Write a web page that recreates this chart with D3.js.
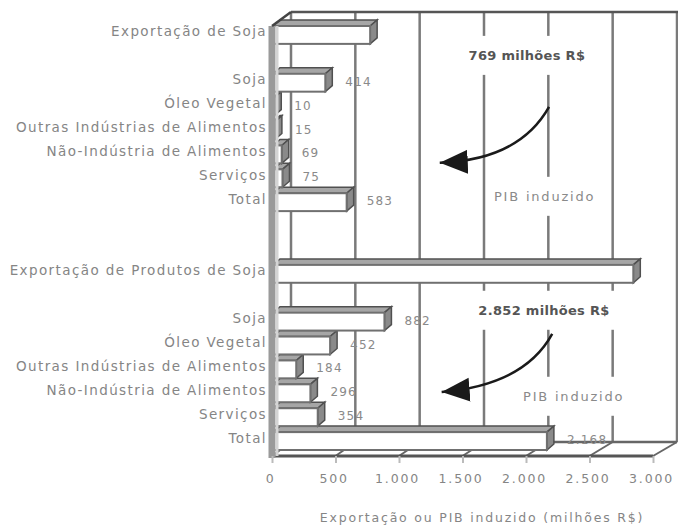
<!DOCTYPE html>
<html>
<head>
<meta charset="utf-8">
<script src="https://cdn.jsdelivr.net/npm/d3@7"></script>
<style>
  body { margin: 0; background: #fff; }
  text { font-family: "DejaVu Sans", sans-serif; }
</style>
</head>
<body>
<svg id="chart" width="678" height="526"></svg>
<script>
// categories, blank entries are the empty rows of the original chart
const categories = ["Exportação de Soja", "", "Soja", "Óleo Vegetal", "Outras Indústrias de Alimentos",
    "Não-Indústria de Alimentos", "Serviços", "Total", "", "", "Exportação de Produtos de Soja", "",
    "Soja", "Óleo Vegetal", "Outras Indústrias de Alimentos", "Não-Indústria de Alimentos", "Serviços", "Total"];
const values = [769, null, 414, 10, 15, 69, 75, 583, null, null, 2852, null, 882, 452, 184, 296, 354, 2168];
const valueLabels = ["", "", "414", "10", "15", "69", "75", "583", "", "", "", "", "882", "452", "184", "296", "354", "2.168"];
const tickValues = [0, 500, 1000, 1500, 2000, 2500, 3000];
const tickLabels = ["0", "500", "1.000", "1.500", "2.000", "2.500", "3.000"];
const axisTitle = "Exportação ou PIB induzido (milhões R$)";

// annotations, in data units (x value, row index)
const noteTexts = ["769 milhões R$", "PIB induzido", "2.852 milhões R$", "PIB induzido"];
const noteX = [2010, 2150, 2145, 2380];
const noteRow = [1.46, 7.36, 12.13, 15.73];
const noteBold = [true, false, true, false];
const arrowFrom = [[2185, 3.64], [2210, 13.14]];
const arrowCtrl = [[1950, 5.86], [1990, 15.28]];
const arrowTo = [[1320, 5.98], [1335, 15.57]];

const width = 678, height = 526;
const floorY = 456;
const depth = { x: 19, y: -14 };   // wall depth
const bar3d = { x: 7, y: -6 };     // bar depth

const svg = d3.select("#chart");

const xFront = d3.scaleLinear().domain([0, 3000]).range([272, 653]);
const xBack = d3.scaleLinear().domain([0, 3000]).range([291, 677]);
const xBar = d3.scaleLinear().domain([0, 3000]).range([273, 652]);
const y = d3.scaleBand().domain(d3.range(categories.length)).range([20, 450]).padding(0);
const yRow = d3.scaleLinear().domain([0, categories.length]).range([20, 450]);

// back wall gridlines
svg.append("g")
    .selectAll("line")
    .data(tickValues)
    .join("line")
    .attr("x1", d => xBack(d))
    .attr("x2", d => xBack(d))
    .attr("y1", 12)
    .attr("y2", floorY + depth.y)
    .attr("stroke", "#7a7a7a")
    .attr("stroke-width", 2.5);

// top edge of back wall
svg.append("line")
    .attr("x1", xBack(0)).attr("x2", width)
    .attr("y1", 12).attr("y2", 12)
    .attr("stroke", "#555").attr("stroke-width", 2.5);

// floor
svg.append("polygon")
    .attr("points", [[xFront(0), floorY], [xFront(3000), floorY],
        [xBack(3000), floorY + depth.y], [xBack(0), floorY + depth.y]].join(" "))
    .attr("fill", "#fff");
svg.append("g")
    .selectAll("line")
    .data(tickValues)
    .join("line")
    .attr("x1", d => xFront(d)).attr("y1", floorY)
    .attr("x2", d => xBack(d)).attr("y2", floorY + depth.y)
    .attr("stroke", "#666").attr("stroke-width", 2);
svg.append("line")
    .attr("x1", xBack(0)).attr("x2", xBack(3000))
    .attr("y1", floorY + depth.y).attr("y2", floorY + depth.y)
    .attr("stroke", "#666").attr("stroke-width", 2.5);
svg.append("line")
    .attr("x1", xFront(0)).attr("x2", xFront(3000))
    .attr("y1", floorY).attr("y2", floorY)
    .attr("stroke", "#555").attr("stroke-width", 3);

// annotation texts with white boxes over the gridlines
const notes = svg.append("g")
    .selectAll("g")
    .data(noteTexts)
    .join("g");
notes.append("text")
    .attr("x", (d, i) => xBar(noteX[i]))
    .attr("y", (d, i) => yRow(noteRow[i]) + 5)
    .attr("text-anchor", "middle")
    .attr("font-size", 13)
    .attr("letter-spacing", (d, i) => noteBold[i] ? 0.3 : 1.8)
    .attr("font-weight", (d, i) => noteBold[i] ? "bold" : "normal")
    .attr("fill", (d, i) => noteBold[i] ? "#555" : "#8a8a8a")
    .text(d => d);
notes.each(function () {
    const g = d3.select(this);
    const b = g.select("text").node().getBBox();
    g.insert("rect", "text")
        .attr("x", b.x - 6).attr("y", b.y - 12)
        .attr("width", b.width + 12).attr("height", b.height + 24)
        .attr("fill", "#fff");
});

// bars
const bars = svg.append("g")
    .selectAll("g")
    .data(values.map((v, i) => ({ v, i })).filter(d => d.v !== null).reverse())
    .join("g");
bars.append("polygon")
    .attr("points", d => {
        const top = y(d.i), x0 = xBar(0), x1 = xBar(d.v);
        return [[x0, top - bar3d.y], [x0 + bar3d.x, top], [x1 + bar3d.x, top], [x1, top - bar3d.y]].join(" ");
    })
    .attr("fill", "#a6a6a6")
    .attr("stroke", "#505050")
    .attr("stroke-width", 1.5);
bars.append("polygon")
    .attr("points", d => {
        const top = y(d.i), bot = y(d.i) + y.bandwidth(), x1 = xBar(d.v);
        return [[x1, top - bar3d.y], [x1 + bar3d.x, top], [x1 + bar3d.x, bot + bar3d.y], [x1, bot]].join(" ");
    })
    .attr("fill", "#8a8a8a")
    .attr("stroke", "#505050")
    .attr("stroke-width", 1.5);
bars.append("rect")
    .attr("x", xBar(0))
    .attr("y", d => y(d.i) - bar3d.y)
    .attr("width", d => xBar(d.v) - xBar(0))
    .attr("height", y.bandwidth() + bar3d.y)
    .attr("fill", "#fff")
    .attr("stroke", "#707070")
    .attr("stroke-width", 2);

// left wall, drawn over the bar starts
svg.append("line")
    .attr("x1", xFront(0)).attr("x2", xFront(0))
    .attr("y1", 12 - depth.y).attr("y2", floorY + 2)
    .attr("stroke", "#9a9a9a").attr("stroke-width", 7);
svg.append("line")
    .attr("x1", xFront(0) + 5).attr("x2", xFront(0) + 5)
    .attr("y1", 12 - depth.y).attr("y2", floorY)
    .attr("stroke", "#d4d4d4").attr("stroke-width", 3);
svg.append("line")
    .attr("x1", xFront(0)).attr("y1", 12 - depth.y)
    .attr("x2", xBack(0)).attr("y2", 12)
    .attr("stroke", "#444").attr("stroke-width", 2.5);

// value labels
svg.append("g")
    .selectAll("text")
    .data(values.map((v, i) => ({ v, i })).filter(d => valueLabels[d.i] !== ""))
    .join("text")
    .attr("x", d => xBar(d.v) + bar3d.x + 13)
    .attr("y", d => y(d.i) + y.bandwidth() / 2 + 6)
    .attr("font-size", 12)
    .attr("letter-spacing", 1.2)
    .attr("fill", "#8a8a8a")
    .text(d => valueLabels[d.i]);

// category labels
svg.append("g")
    .selectAll("text")
    .data(categories)
    .join("text")
    .attr("x", 267)
    .attr("y", (d, i) => y(i) + y.bandwidth() / 2 + 4.5)
    .attr("text-anchor", "end")
    .attr("font-size", 13.5)
    .attr("letter-spacing", 1.4)
    .attr("fill", "#858585")
    .text(d => d);

// x axis
const xAxis = svg.append("g")
    .attr("transform", `translate(0,${floorY})`)
    .call(d3.axisBottom(xFront)
        .tickValues(tickValues)
        .tickFormat((d, i) => tickLabels[i])
        .tickSize(7)
        .tickPadding(11));
xAxis.select(".domain").remove();
xAxis.selectAll(".tick line").attr("stroke", "#bbb").attr("stroke-width", 2);
xAxis.selectAll(".tick text")
    .attr("font-size", 12.5)
    .attr("letter-spacing", 1.8)
    .attr("dx", -2)
    .attr("font-family", "DejaVu Sans")
    .attr("fill", "#858585");

svg.append("text")
    .attr("x", 482)
    .attr("y", 522)
    .attr("text-anchor", "middle")
    .attr("font-size", 12.5)
    .attr("letter-spacing", 1.8)
    .attr("fill", "#858585")
    .text(axisTitle);

// curved arrows
svg.append("defs")
    .append("marker")
    .attr("id", "head")
    .attr("markerUnits", "userSpaceOnUse")
    .attr("viewBox", "0 -13 30 26")
    .attr("refX", 28)
    .attr("refY", 0)
    .attr("markerWidth", 30)
    .attr("markerHeight", 26)
    .attr("orient", "auto")
    .append("path")
    .attr("d", "M0,-12L28,0L0,12Z")
    .attr("fill", "#1a1a1a");

svg.append("g")
    .selectAll("path")
    .data(arrowFrom)
    .join("path")
    .attr("d", (d, i) => {
        const p = d3.path();
        p.moveTo(xBar(d[0]), yRow(d[1]));
        p.quadraticCurveTo(xBar(arrowCtrl[i][0]), yRow(arrowCtrl[i][1]),
            xBar(arrowTo[i][0]), yRow(arrowTo[i][1]));
        return p.toString();
    })
    .attr("fill", "none")
    .attr("stroke", "#1a1a1a")
    .attr("stroke-width", 2.5)
    .attr("marker-end", "url(#head)");
</script>
</body>
</html>
